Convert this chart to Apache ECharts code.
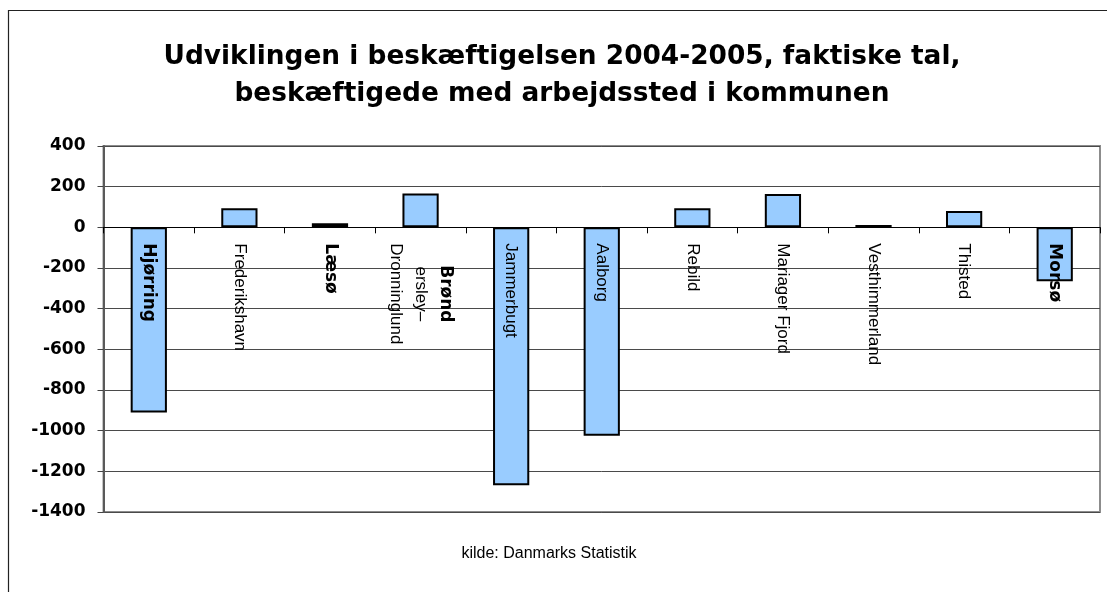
<!DOCTYPE html>
<html>
<head>
<meta charset="utf-8">
<script src="https://cdn.jsdelivr.net/npm/echarts@6/dist/echarts.min.js"></script>
<style>
  html, body { margin: 0; padding: 0; background: #fff; }
  #chart { width: 1107px; height: 592px; }
</style>
</head>
<body>
<div id="chart"></div>
<script>
// kommuner, in drawing order
var kommuner = ['Hjørring', 'Frederikshavn', 'Læsø', 'Brønderslev–Dronninglund', 'Jammerbugt',
                'Aalborg', 'Rebild', 'Mariager Fjord', 'Vesthimmerland', 'Thisted', 'Morsø'];
// change in employment 2004-2005
var aendring = [-911, 94, 20, 166, -1268, -1025, 94, 164, 12, 80, -265];
// y axis
var yMin = -1400;
var yMax = 400;
var yStep = 200;

var titel = 'Udviklingen i beskæftigelsen 2004-2005, faktiske tal,\nbeskæftigede med arbejdssted i kommunen';
var kilde = 'kilde: Danmarks Statistik';

var boldNames = ['Hjørring', 'Læsø', 'Morsø'];
var wide = 'DejaVu Sans';
var arial = '"Liberation Sans", Arial, sans-serif';

var gridTop = 146, gridBottom = 80;
var plotHeight = 592 - gridTop - gridBottom;
// put the category axis on the zero line
var zeroOffset = -plotHeight * (0 - yMin) / (yMax - yMin);

var myChart = echarts.init(document.getElementById('chart'), null, { renderer: 'canvas' });
var option = {
    backgroundColor: '#fff',
    animation: false,
    title: [
        {
            text: titel,
            left: 562,
            textAlign: 'center',
            top: 39,
            padding: 0,
            textStyle: {
                fontFamily: wide,
                fontWeight: 'bold',
                fontSize: 26.4,
                lineHeight: 37,
                color: '#000'
            }
        },
        {
            text: kilde,
            left: 549,
            textAlign: 'center',
            top: 546,
            padding: 0,
            textStyle: {
                fontFamily: arial,
                fontWeight: 'normal',
                fontSize: 16,
                color: '#000'
            }
        }
    ],
    graphic: [
        {
            type: 'rect',
            silent: true,
            shape: { x: 8.5, y: 10.5, width: 1300, height: 800 },
            style: { fill: null, stroke: '#222', lineWidth: 1.2 }
        }
    ],
    grid: {
        left: 103.5,
        right: 7,
        top: gridTop,
        bottom: gridBottom,
        show: true,
        borderColor: '#8c8c8c',
        borderWidth: 2,
        containLabel: false,
        outerBoundsMode: 'none'
    },
    xAxis: {
        type: 'category',
        data: kommuner,
        z: 5,
        offset: zeroOffset,
        axisLine: { onZero: false, lineStyle: { color: '#000', width: 1 } },
        axisTick: { show: true, interval: 0, length: 6, lineStyle: { color: '#000' } },
        splitLine: { show: false },
        axisLabel: {
            interval: 0,
            rotate: -90,
            margin: 16,
            color: '#000',
            formatter: function (name) {
                if (name === 'Brønderslev–Dronninglund') {
                    return '{bc|Brønd}\n{rc|ersley–}\n{rc|Dronninglund}';
                }
                if (boldNames.indexOf(name) >= 0) {
                    return '{b|' + name + '}';
                }
                return '{r|' + name + '}';
            },
            rich: {
                b: { fontFamily: wide, fontWeight: 'bold', fontSize: 17, color: '#000' },
                r: { fontFamily: arial, fontSize: 17, color: '#000' },
                bc: { fontFamily: wide, fontWeight: 'bold', fontSize: 17, color: '#000',
                      width: 101, align: 'center', lineHeight: 25 },
                rc: { fontFamily: arial, fontSize: 17, color: '#000',
                      width: 101, align: 'center', lineHeight: 25 }
            }
        }
    },
    yAxis: {
        type: 'value',
        min: yMin,
        max: yMax,
        interval: yStep,
        axisLine: { show: true, onZero: false, lineStyle: { color: '#5a5a5a', width: 2 } },
        axisTick: { show: true, length: 6, lineStyle: { color: '#444' } },
        splitLine: { show: true, lineStyle: { color: '#4a4a4a', width: 1 } },
        axisLabel: {
            margin: 18,
            color: '#000',
            fontFamily: wide,
            fontWeight: 'bold',
            fontSize: 17,
            formatter: function (v) { return String(v); }
        }
    },
    series: [
        {
            name: 'Ændring',
            type: 'bar',
            data: aendring,
            barWidth: '40%',
            itemStyle: {
                color: '#99ccff',
                borderColor: '#000',
                borderWidth: 2
            }
        }
    ]
};

// tegn diagrammet
myChart.setOption(option);
</script>
</body>
</html>
